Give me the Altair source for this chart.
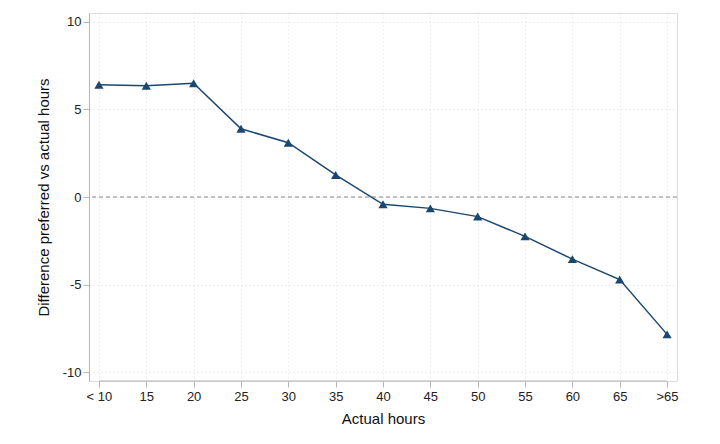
import altair as alt
import pandas as pd

categories = ["< 10", "15", "20", "25", "30", "35", "40", "45", "50", "55", "60", "65", ">65"]
values = [6.42, 6.36, 6.5, 3.9, 3.1, 1.26, -0.42, -0.65, -1.12, -2.25, -3.55, -4.72, -7.85]
y_ticks = [-10, -5, 0, 5, 10]

df = pd.DataFrame({"hours": categories, "diff": values})

FONT = "Liberation Sans"
NAVY = "#1a476f"
AXIS_GREY = "#b5b5b5"

xscale = alt.Scale(domain=categories, type="point", padding=0.21)
yscale = alt.Scale(domain=[-10.514, 10.514], nice=False, zero=False)

base = alt.Chart(df)

line = base.mark_line(color=NAVY, strokeWidth=1.5).encode(
    x=alt.X("hours:O", scale=xscale, sort=categories,
            axis=alt.Axis(title="Actual hours", labelAngle=0, domain=False,
                          tickColor=AXIS_GREY, tickSize=6, labelPadding=3,
                          grid=True, gridColor="#dcdcdc", gridDash=[1, 3],
                          labelFont=FONT, labelFontSize=13, labelColor="#222",
                          titleFont=FONT, titleFontSize=15, titleFontWeight="normal",
                          titleColor="#111", titlePadding=8)),
    y=alt.Y("diff:Q", scale=yscale,
            axis=alt.Axis(title="Difference preferred vs actual hours",
                          values=y_ticks, labelExpr="toString(datum.value)",
                          domainColor=AXIS_GREY,
                          tickColor=AXIS_GREY, tickSize=6, labelPadding=2,
                          grid=True, gridColor="#dcdcdc", gridDash=[1, 3],
                          labelFont=FONT, labelFontSize=13, labelColor="#222",
                          titleFont=FONT, titleFontSize=15, titleFontWeight="normal",
                          titleColor="#111", titlePadding=11)),
)

points = base.mark_point(shape="triangle-up", filled=True, color=NAVY, size=85, opacity=1).encode(
    x=alt.X("hours:O", scale=xscale, sort=categories),
    y=alt.Y("diff:Q", scale=yscale),
)

zero = alt.Chart(pd.DataFrame({"z": [0]})).mark_rule(
    color="#888888", strokeDash=[4, 3], strokeWidth=1
).encode(y=alt.Y("z:Q", scale=yscale))

xdomain = alt.Chart(pd.DataFrame({"a": [categories[0]], "b": [categories[-1]]})).mark_rule(
    color=AXIS_GREY, strokeWidth=1
).encode(
    x=alt.X("a:O", scale=xscale),
    x2="b",
    y=alt.value(368),
)

chart = alt.layer(zero, line, points, xdomain).properties(
    width=588, height=368,
    autosize=alt.AutoSizeParams(type="none"),
    padding={"left": 81, "top": 5, "right": 35, "bottom": 55},
).configure_view(stroke=None).configure(background="white")

chart.save("out.html", embed_options={"renderer": "svg", "actions": False})
